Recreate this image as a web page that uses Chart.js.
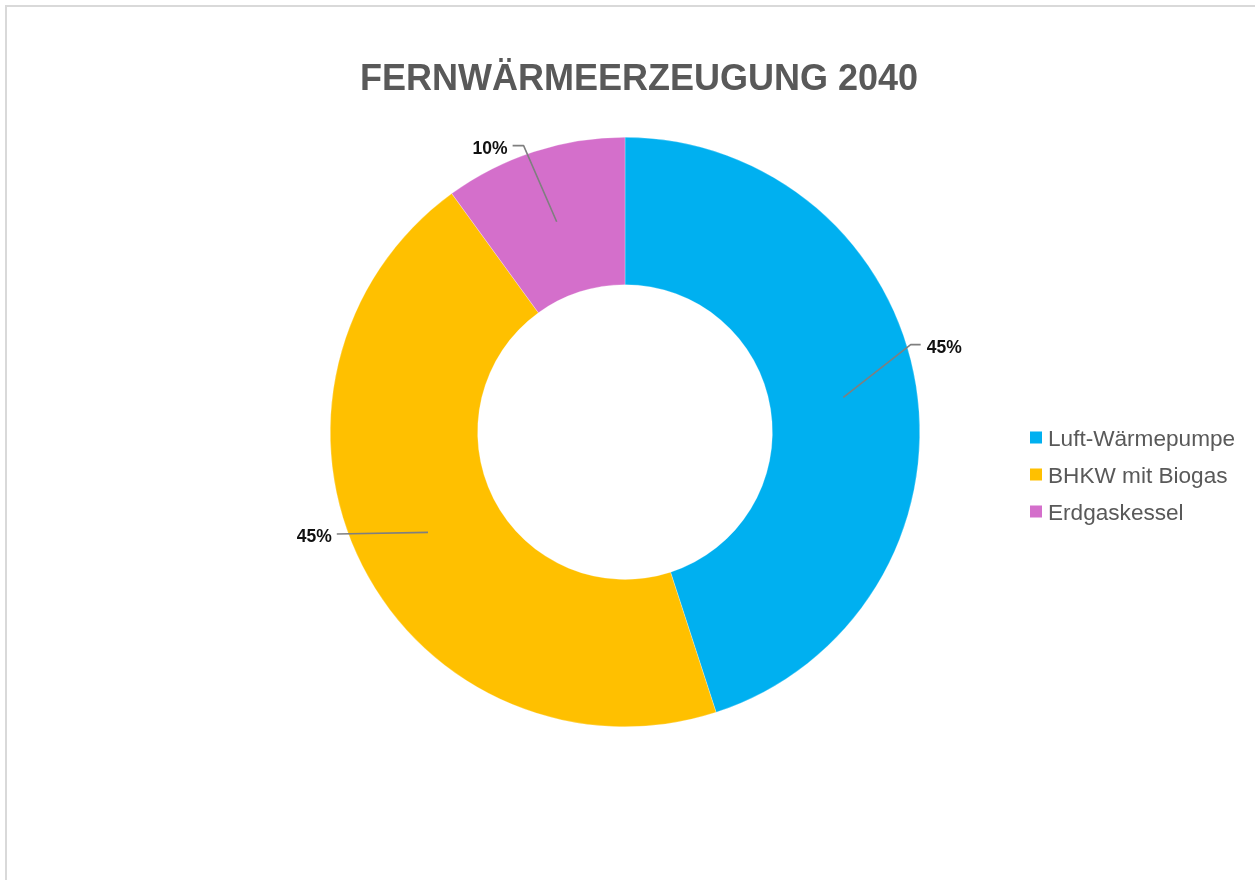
<!DOCTYPE html>
<html lang="de">
<head>
<meta charset="utf-8">
<title>Fernwärmeerzeugung 2040</title>
<script src="https://cdn.jsdelivr.net/npm/chart.js@4/dist/chart.umd.min.js"></script>
<style>
  html, body { margin: 0; padding: 0; background: #fff; overflow: hidden; }
  #wrap { position: relative; width: 1255px; height: 880px; }
  #frame {
    position: absolute; left: 5px; top: 5px; width: 1400px; height: 1000px;
    border: 2px solid #d9d9d9; box-sizing: border-box; pointer-events: none;
  }
  canvas { position: absolute; left: 0; top: 0; }
</style>
</head>
<body>
<div id="wrap">
  <canvas id="chart" width="1255" height="880"></canvas>
  <div id="frame"></div>
</div>
<script>
const titel = 'FERNWÄRMEERZEUGUNG 2040';
const kategorien = ['Luft-Wärmepumpe', 'BHKW mit Biogas', 'Erdgaskessel'];
const anteile = [45, 45, 10];
const farben = ['#00B0F0', '#FFC000', '#D46FCB'];

// leader line placement per slice: angle shift (deg), gap past the ring, horizontal tick
const labelShift = [-8, 7.5, -1.5];
const labelGap = [4, 11, 9];
const labelTick = [10, 0, 11];

const FONT = '"Liberation Sans", Arial, sans-serif';
const grad = Math.PI / 180;

const beschriftung = {
  id: 'beschriftung',
  afterDatasetsDraw(chart) {
    const ctx = chart.ctx;
    const summe = anteile.reduce((a, b) => a + b, 0);
    const meta = chart.getDatasetMeta(0);
    ctx.save();
    meta.data.forEach((arc, i) => {
      const { x, y, startAngle, endAngle, innerRadius, outerRadius } =
        arc.getProps(['x', 'y', 'startAngle', 'endAngle', 'innerRadius', 'outerRadius'], true);
      const mitte = (startAngle + endAngle) / 2;
      const r0 = (innerRadius + outerRadius) / 2;
      const x0 = x + Math.cos(mitte) * r0;
      const y0 = y + Math.sin(mitte) * r0;
      const a1 = mitte + labelShift[i] * grad;
      const r1 = outerRadius + labelGap[i];
      const x1 = x + Math.cos(a1) * r1;
      const y1 = y + Math.sin(a1) * r1;
      const rechts = Math.cos(a1) >= 0;
      const x2 = x1 + (rechts ? 1 : -1) * labelTick[i];

      ctx.strokeStyle = '#7f7f7f';
      ctx.lineWidth = 1.6;
      ctx.lineJoin = 'round';
      ctx.beginPath();
      ctx.moveTo(x0, y0);
      ctx.lineTo(x1, y1);
      ctx.lineTo(x2, y1);
      ctx.stroke();

      const size = 17.5;
      ctx.font = 'bold ' + size + 'px ' + FONT;
      ctx.fillStyle = '#111';
      ctx.textBaseline = 'alphabetic';
      ctx.textAlign = rechts ? 'left' : 'right';
      const text = Math.round(anteile[i] / summe * 100) + '%';
      ctx.fillText(text, x2 + (rechts ? 6 : -5), y1 + 2 + size * 0.358);
    });
    ctx.restore();
  },
  afterDraw(chart) {
    const ctx = chart.ctx;
    ctx.save();
    // title
    ctx.font = 'bold 36px ' + FONT;
    ctx.fillStyle = '#595959';
    ctx.textAlign = 'center';
    ctx.textBaseline = 'alphabetic';
    ctx.fillText(titel, 639, 90);

    // legend
    ctx.font = '22.6px ' + FONT;
    ctx.textAlign = 'left';
    kategorien.forEach((name, i) => {
      const yc = 437.5 + i * 37;
      ctx.fillStyle = farben[i];
      ctx.fillRect(1030, yc - 6, 12, 12);
      ctx.fillStyle = '#595959';
      ctx.fillText(name, 1048, yc + 8);
    });
    ctx.restore();
  }
};

new Chart(document.getElementById('chart'), {
  type: 'doughnut',
  data: {
    labels: kategorien,
    datasets: [{
      data: anteile,
      backgroundColor: farben,
      borderColor: 'rgba(255,255,255,0.5)',
      borderWidth: 0.5,
      hoverOffset: 0
    }]
  },
  options: {
    responsive: false,
    animation: false,
    devicePixelRatio: 1,
    cutout: '50%',
    layout: { padding: { top: 137, bottom: 153, left: 330, right: 335 } },
    plugins: {
      legend: { display: false },
      title: { display: false },
      tooltip: { enabled: false }
    }
  },
  plugins: [beschriftung]
});
</script>
</body>
</html>
